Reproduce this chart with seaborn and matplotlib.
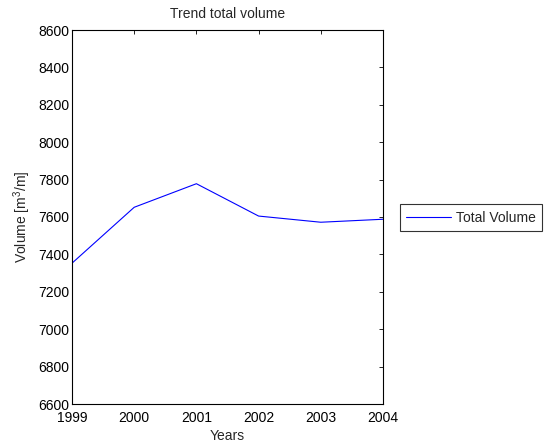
import matplotlib
matplotlib.use("Agg")
import matplotlib.pyplot as plt
import seaborn as sns
import pandas as pd

# Data
years = [1999, 2000, 2001, 2002, 2003, 2004]
total_volume = [7353, 7652, 7778, 7605, 7572, 7588]

df = pd.DataFrame({"Years": years, "Total Volume": total_volume})

sns.set_style("white")
plt.rcParams["font.family"] = ["Liberation Sans", "DejaVu Sans"]
plt.rcParams["font.size"] = 10
plt.rcParams["mathtext.fontset"] = "custom"
plt.rcParams["mathtext.rm"] = "Liberation Sans"

fig = plt.figure(figsize=(5.51, 4.46), dpi=100)
ax = fig.add_axes([72 / 551, 1 - 404 / 446, 311 / 551, 374 / 446])

sns.lineplot(data=df, x="Years", y="Total Volume", ax=ax, color="blue",
             linewidth=0.8, label="Total Volume")

ax.set_xlim(1999, 2004)
ax.set_ylim(6600, 8600)
ax.set_xticks(years)
ax.set_yticks(range(6600, 8601, 200))
ax.tick_params(direction="in", length=3, width=0.6, top=True, right=True,
               labelsize=10, colors="black", pad=2)
ax.tick_params(axis="x", pad=5)
for s in ax.spines.values():
    s.set_color("black")
    s.set_linewidth(0.8)

ax.set_title("Trend total volume", fontsize=10, pad=9)
ax.set_xlabel("Years", fontsize=10, labelpad=3)
ax.set_ylabel(r"Volume [m$^3$/m]", fontsize=10, labelpad=4)

leg = ax.legend(loc="center left", bbox_to_anchor=(400 / 551, 1 - 217.5 / 446),
                bbox_transform=fig.transFigure, frameon=True, fancybox=False,
                fontsize=10, handlelength=3.2, handletextpad=0.4,
                borderpad=0.45, borderaxespad=0)
leg.get_frame().set_edgecolor("black")
leg.get_frame().set_linewidth(0.8)

fig.savefig("out.png", dpi=100)
